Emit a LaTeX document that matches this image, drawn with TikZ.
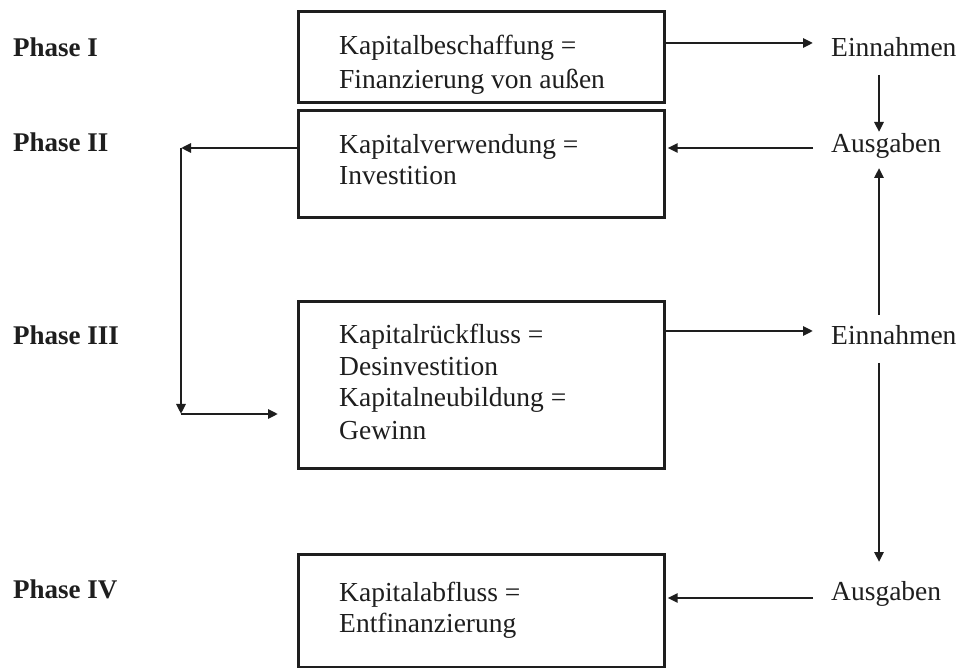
\documentclass[tikz,border=0pt]{standalone}
\usepackage{fontspec}
\setmainfont{Liberation Serif}
\usetikzlibrary{arrows.meta}
\definecolor{ink}{HTML}{1E1E1E}
\begin{document}
\begin{tikzpicture}[x=1pt,y=-1pt,
  box/.style={draw=ink,line width=2.6pt,rectangle,inner sep=0pt,anchor=north west,minimum width=366pt},
  txt/.style={anchor=base west,inner sep=0pt,text=ink,font=\fontsize{27.5}{32}\selectfont},
  phase/.style={anchor=base west,inner sep=0pt,text=ink,font=\fontsize{27}{32}\selectfont\bfseries},
  arr/.style={draw=ink,line width=2.6pt,-{Triangle[length=10pt,width=9pt]}}]
\useasboundingbox[fill=white] (0,0) rectangle (962,668);

% phase labels
\node[phase] (ph1) at (13,57) {Phase I};
\node[phase] (ph2) at (13,152) {Phase II};
\node[phase] (ph3) at (13,345) {Phase III};
\node[phase] (ph4) at (13,598) {Phase IV};

% boxes
\node[box,minimum height=91pt]  (b1) at (297,10)  {};
\node[box,minimum height=107pt] (b2) at (297,109) {};
\node[box,minimum height=167pt] (b3) at (297,300) {};
\node[box,minimum height=113pt] (b4) at (297,553) {};

% box texts
\node[txt] (t1a) at (339,55)  {Kapitalbeschaffung =};
\node[txt] (t1b) at (339,89)  {Finanzierung von außen};
\node[txt] (t2a) at (339,154) {Kapitalverwendung =};
\node[txt] (t2b) at (339,185) {Investition};
\node[txt] (t3a) at (339,344) {Kapitalrückfluss =};
\node[txt] (t3b) at (339,376) {Desinvestition};
\node[txt] (t3c) at (339,407) {Kapitalneubildung =};
\node[txt] (t3d) at (339,439) {Gewinn};
\node[txt] (t4a) at (339,601) {Kapitalabfluss =};
\node[txt] (t4b) at (339,632) {Entfinanzierung};

% cash flow labels
\node[txt] (e1) at (831,57)  {Einnahmen};
\node[txt] (a1) at (831,153) {Ausgaben};
\node[txt] (e2) at (831,345) {Einnahmen};
\node[txt] (a2) at (831,600) {Ausgaben};

% arrow end points
\coordinate (e1in)  at (813,43);
\coordinate (a1out) at (813,148);
\coordinate (e2in)  at (813,331);
\coordinate (a2out) at (813,598);
\coordinate (v1s) at (879,75);  \coordinate (v1e) at (879,132);
\coordinate (v2s) at (879,315); \coordinate (v2e) at (879,168);
\coordinate (v3s) at (879,363); \coordinate (v3e) at (879,562);
\coordinate (c1) at (181,148);
\coordinate (c2) at (181,414);
\coordinate (c3) at (278,414);

% connectors
\draw[arr] (b1.east |- e1in) -- (e1in);
\draw[arr,shorten >=2pt] (a1out) -- (b2.east |- a1out);
\draw[arr] (b3.east |- e2in) -- (e2in);
\draw[arr,shorten >=2pt] (a2out) -- (b4.east |- a2out);
\draw[arr] (v1s) -- (v1e);
\draw[arr] (v2s) -- (v2e);
\draw[arr] (v3s) -- (v3e);
\draw[arr] (b2.west |- c1) -- (c1);
\draw[arr] (c1) -- (c2);
\draw[arr] (c2) -- (c3);
\end{tikzpicture}
\end{document}
